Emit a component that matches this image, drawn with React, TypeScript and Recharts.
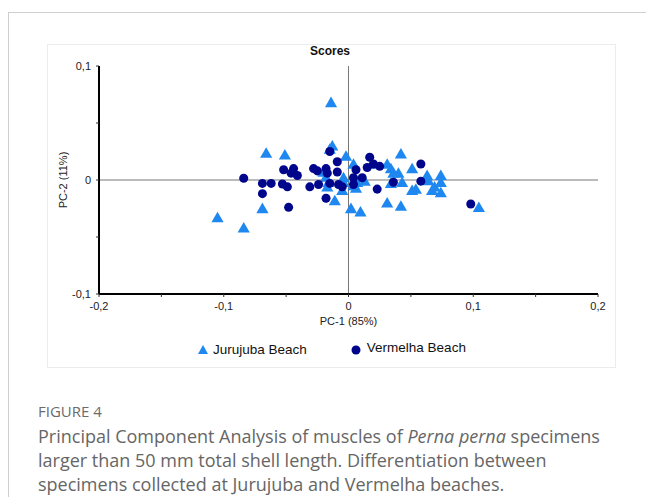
import { ScatterChart, Scatter, XAxis, YAxis, ZAxis, ReferenceLine } from "recharts";

// PC-1 / PC-2 scores
const jurujubaPC1 = [
  -0.105, -0.084, -0.069, -0.066, -0.051, -0.014, -0.013, -0.015, -0.02, -0.018, -0.016, -0.017, -0.011,
  -0.002, 0.004, -0.004, -0.004, -0.005, 0.002, 0.0096, 0.004, 0.006, 0.007, 0.013, 0.019, 0.031, 0.034,
  0.036, 0.04, 0.042, 0.034, 0.043, 0.031, 0.042, 0.051, 0.051, 0.054, 0.063, 0.064, 0.067, 0.069, 0.074,
  0.074, 0.074, 0.1045,
];
const jurujubaPC2 = [
  -0.034, -0.043, -0.026, 0.0225, 0.021, 0.067, 0.029, 0.026, 0.006, 0.0015, -0.003, -0.007, -0.019,
  0.02, 0.013, 0.001, -0.003, -0.01, -0.026, -0.029, -0.006, -0.008, -0.003, -0.002, 0.013, 0.013, 0.009,
  0.005, 0.005, 0.022, -0.004, -0.003, -0.021, -0.024, 0.009, -0.01, -0.009, 0.003, -0.0015, -0.01,
  -0.007, 0.003, -0.003, -0.012, -0.025,
];
const vermelhaPC1 = [
  -0.084, -0.069, -0.069, -0.062, -0.052, -0.044, -0.046, -0.041, -0.053, -0.049, -0.048, -0.031, -0.028,
  -0.025, -0.024, -0.018, -0.017, -0.018, -0.015, -0.009, -0.009, -0.008, -0.005, -0.015, 0.004, 0.004,
  0.006, 0.011, 0.017, 0.015, 0.02, 0.025, 0.023, 0.036, 0.058, 0.058, 0.098,
];
const vermelhaPC2 = [
  0.0015, -0.003, -0.012, -0.003, 0.009, 0.01, 0.006, 0.004, -0.0035, -0.006, -0.024, -0.006, 0.01,
  0.008, -0.004, 0.01, 0.006, -0.016, -0.003, 0.016, 0.007, -0.004, -0.006, 0.025, 0.002, -0.004,
  0.009, 0.002, 0.02, 0.011, 0.014, 0.012, -0.008, -0.002, 0.014, -0.001, -0.021,
];
const xTicks = [-0.2, -0.15, -0.1, -0.05, 0, 0.05, 0.1, 0.15, 0.2];
const yTicks = [-0.1, -0.05, 0, 0.05, 0.1];

const jurujuba = jurujubaPC1.map((x, i) => ({ x, y: jurujubaPC2[i] }));
const vermelha = vermelhaPC1.map((x, i) => ({ x, y: vermelhaPC2[i] }));

const TRI = "#1e88f0";
const DOT = "#00068c";

// only label the 0.1 steps, with a decimal comma
const fmt = (v: number) => {
  if (Math.abs(Math.round(v * 10) - v * 10) > 1e-6) return "";
  if (Math.abs(v) < 1e-9) return "0";
  return v.toFixed(1).replace(".", ",");
};

const tickStyle = { fontFamily: "Liberation Sans, Arial, sans-serif", fontSize: 11, fill: "#222" };

const YLabel = ({ viewBox }: any) => {
  const cx = viewBox.x + 16;
  const cy = viewBox.y + viewBox.height / 2;
  return (
    <text
      x={cx}
      y={cy}
      transform={`rotate(-90 ${cx} ${cy})`}
      textAnchor="middle"
      dominantBaseline="central"
      style={tickStyle}
    >
      PC-2 (11%)
    </text>
  );
};

export default function App() {
  return (
    <div style={{ position: "fixed", left: 0, top: 0, width: 646, height: 497, background: "#fff", overflow: "hidden" }}>
      {/* page frame */}
      <div style={{ position: "absolute", left: 8, top: 12, right: -2, bottom: -2, borderTop: "1px solid #cfcfcf", borderLeft: "1px solid #cfcfcf" }} />
      {/* figure box */}
      <div style={{ position: "absolute", left: 47, top: 44, width: 567, height: 322, border: "1px solid #ececec" }} />

      <div style={{ position: "absolute", left: 47, top: 44 }}>
        <ScatterChart width={568} height={322} margin={{ top: 22, right: 17, bottom: 0, left: 0 }}>
          <XAxis
            type="number"
            dataKey="x"
            domain={[-0.2, 0.2]}
            ticks={xTicks}
            tickFormatter={fmt}
            interval={0}
            height={72}
            tickSize={3}
            tickMargin={5}
            axisLine={{ stroke: "#000", strokeWidth: 2 }}
            tickLine={{ stroke: "#333" }}
            tick={tickStyle}
            label={{ value: "PC-1 (85%)", position: "insideTop", offset: 23, style: tickStyle }}
          />
          <YAxis
            type="number"
            dataKey="y"
            domain={[-0.1, 0.1]}
            ticks={yTicks}
            tickFormatter={fmt}
            interval={0}
            width={52}
            tickSize={3}
            tickMargin={5}
            axisLine={{ stroke: "#000", strokeWidth: 2 }}
            tickLine={{ stroke: "#333" }}
            tick={tickStyle}
            label={<YLabel />}
          />
          <ZAxis zAxisId="tri" range={[50, 50]} />
          <ZAxis zAxisId="dot" range={[64, 64]} />
          <ReferenceLine x={0} stroke="#777" strokeWidth={1} />
          <ReferenceLine y={0} stroke="#777" strokeWidth={1} />
          <Scatter name="Jurujuba Beach" data={jurujuba} zAxisId="tri" shape="triangle" fill={TRI} isAnimationActive={false} />
          <Scatter name="Vermelha Beach" data={vermelha} zAxisId="dot" shape="circle" fill={DOT} isAnimationActive={false} />
        </ScatterChart>
      </div>

      <div style={{ position: "absolute", left: 280, top: 44, width: 100, textAlign: "center", fontFamily: "Liberation Sans, Arial, sans-serif", fontWeight: "bold", fontSize: 12, color: "#111" }}>
        Scores
      </div>

      {/* legend */}
      <div style={{ position: "absolute", left: 197, top: 342, display: "flex", alignItems: "center", fontFamily: "Liberation Sans, Arial, sans-serif", fontSize: 13.5, color: "#111" }}>
        <svg width={12} height={12} style={{ marginRight: 4 }}>
          <polygon points="6,1 11,10 1,10" fill={TRI} />
        </svg>
        <span>Jurujuba Beach</span>
        <svg width={12} height={12} style={{ marginLeft: 43, marginRight: 5 }}>
          <circle cx={6} cy={6} r={4.5} fill={DOT} />
        </svg>
        <span style={{ position: "relative", top: -2 }}>Vermelha Beach</span>
      </div>

      {/* caption */}
      <div style={{ position: "absolute", left: 38, top: 401, fontFamily: "Open Sans, sans-serif", fontSize: 15, color: "#6b6b6b" }}>
        FIGURE 4
      </div>
      <div style={{ position: "absolute", left: 38, top: 424, fontFamily: "Open Sans, sans-serif", fontSize: 18, lineHeight: "24px", color: "#666", whiteSpace: "nowrap" }}>
        Principal Component Analysis of muscles of <i>Perna perna</i> specimens
        <br />
        larger than 50 mm total shell length. Differentiation between
        <br />
        specimens collected at Jurujuba and Vermelha beaches.
      </div>
    </div>
  );
}
